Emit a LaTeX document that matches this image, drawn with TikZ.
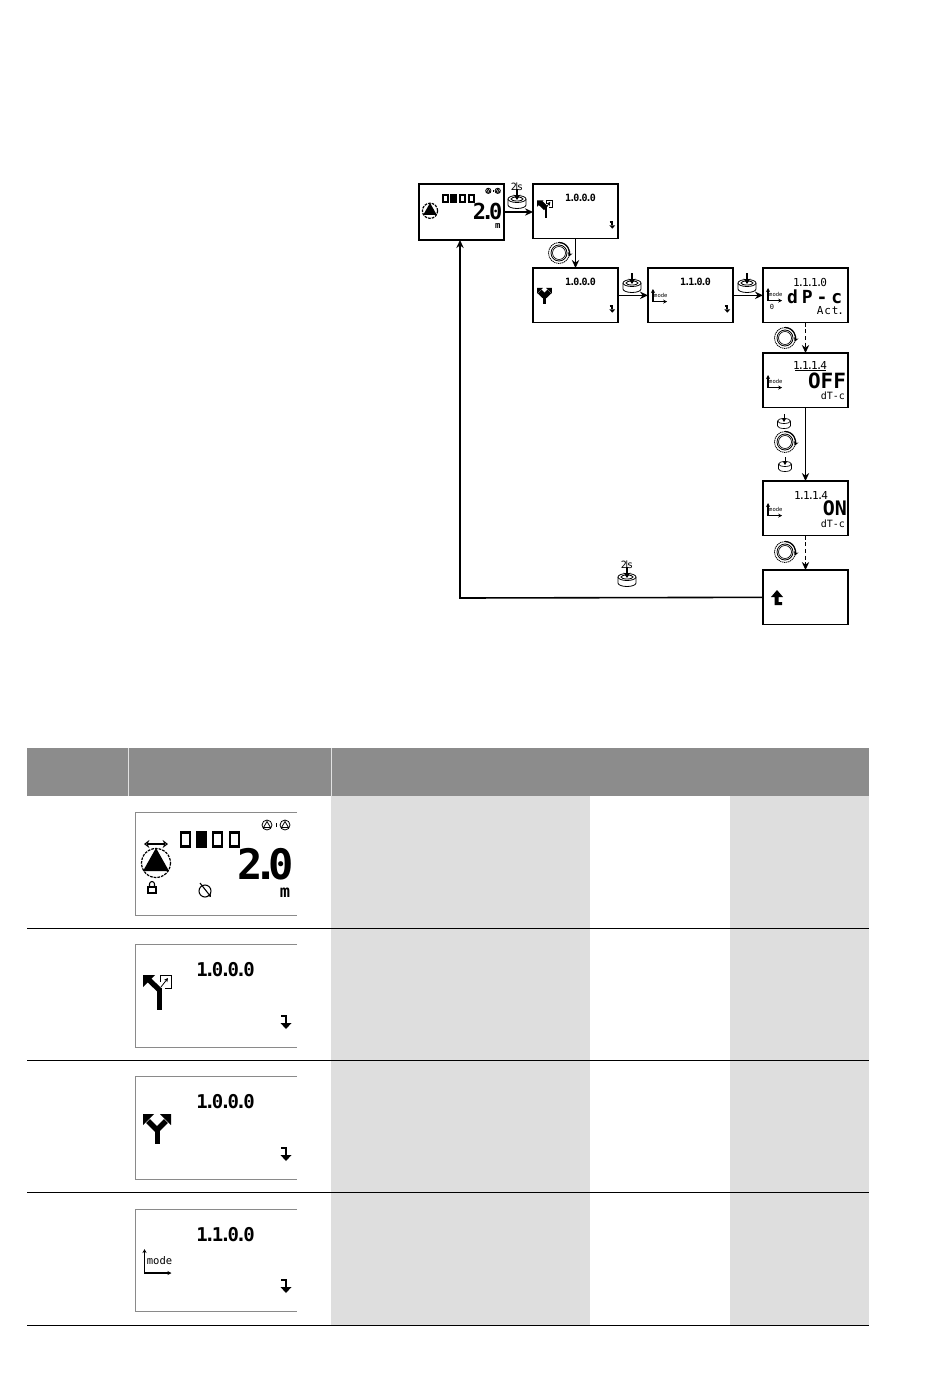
\documentclass[tikz,border=0pt]{standalone}
\usepackage{fontspec}
\setmainfont{DejaVu Sans Mono}
\usetikzlibrary{arrows.meta}
\definecolor{headgray}{HTML}{8C8C8C}
\definecolor{cellgray}{HTML}{DEDEDE}
\definecolor{framegray}{HTML}{8A8A8A}
% font size given in reference pixels (1px = .75pt)
\newcommand{\pxfont}[1]{\fontsize{\dimexpr#1pt*3/4\relax}{\dimexpr#1pt*3/4\relax}\selectfont}
\newcommand{\kd}{\kern-.19em.\kern-.19em}
\newcommand{\code}[4]{#1\kd#2\kd#3\kd#4}
\tikzset{
  x=.75pt,y=-.75pt,
  screenbox/.style={draw=black,line width=1pt,fill=white,rectangle,minimum width=63.75pt,minimum height=41pt,inner sep=0pt,outer sep=0pt,anchor=north west},
  flow/.style={draw=black,line width=1.2pt,-{Stealth[length=6pt,width=5.5pt]}},
  flowthin/.style={flow,line width=.8pt},
  flowdash/.style={flow,line width=.8pt,dash pattern=on 3pt off 2pt},
  lcd/.style={inner sep=0pt,outer sep=0pt,text=black},
  framing/.style={draw=framegray,line width=.7pt},
  pics/downret/.style={code={
    \draw[line width=1.5pt] (-5,-7) -- (0,-7) -- (0,0);
    \fill (-5.5,0) -- (5.5,0) -- (0,6) -- cycle;
  }},
  pics/modeicon/.style={code={
    \draw[line width=1.1pt,{Stealth[length=3pt,width=3pt]}-{Stealth[length=3pt,width=3pt]}] (0,0) -- (0,24) -- (27,24);
    \node[lcd] at (15,12) {\pxfont{10.5}mode};
  }},
  pics/forkone/.style={code={
    \fill (22,65.5) rectangle (27,44);
    \draw[line width=4pt] (24.5,46) -- (14,36);
    \fill (8,31) -- (20,31) -- (8,43) -- cycle;
    \draw[line width=.6pt,fill=white] (25,38) -- (25,31) -- (36,31) -- (36,44) -- (30,44);
    \draw[line width=.6pt,-{Stealth[length=3pt,width=3pt]}] (26,43) -- (33,34);
  }},
  pics/forktwo/.style={code={
    \fill (19.5,68) rectangle (24.5,52);
    \draw[line width=4pt] (22,54) -- (13,45);
    \draw[line width=4pt] (22,54) -- (31,45);
    \fill (8,38) -- (19,38) -- (8,49) -- cycle;
    \fill (36,38) -- (25,38) -- (36,49) -- cycle;
  }},
  pics/pumpscreen/.style={code={
    \foreach \xx/\ff in {46/white,62/black,78/white,95/white}{
      \draw[line width=1.6pt,fill=\ff] (\xx,20.5) rectangle (\xx+9,34.5);
    }
    \draw[line width=.9pt,dash pattern=on 2pt off .8pt] (21,51) circle (14.5);
    \fill (21,36) -- (34,59) -- (8,59) -- cycle;
    \foreach \cx in {132,150}{
      \draw[line width=.6pt] (\cx,13) circle (5);
      \draw[line width=.6pt] (\cx,9.5) -- (\cx+3.5,15.5) -- (\cx-3.5,15.5) -- cycle;
    }
    \fill (141,11) rectangle (142,15);
    \node[lcd,font=\bfseries,anchor=base east] at (159,67.5) {\pxfont{42}2\kern-.23em.\kern-.23em 0};
  }},
  pics/pressbtn/.style={code={
    \draw[line width=.6pt,fill=white] (-9,-1) -- (-9,5) arc[start angle=180,end angle=0,x radius=9,y radius=3.5] -- (9,-1);
    \draw[line width=.6pt,fill=white] (0,-1) ellipse[x radius=9,y radius=3.5];
    \draw[line width=.6pt] (0,-1) ellipse[x radius=6,y radius=2];
    \draw[line width=1.3pt,-{Stealth[length=4pt,width=5pt]}] (0,-11) -- (0,0);
  }},
  pics/smallpress/.style={code={
    \draw[line width=.5pt,fill=white] (-6.5,-1) -- (-6.5,4) arc[start angle=180,end angle=0,x radius=6.5,y radius=2.5] -- (6.5,-1);
    \draw[line width=.5pt,fill=white] (0,-1) ellipse[x radius=6.5,y radius=2.5];
    \draw[line width=.7pt,-{Stealth[length=3pt,width=3.5pt]}] (0,-8) -- (0,0);
  }},
  pics/dial/.style={code={
    \draw[line width=.6pt] (0,0) circle (8);
    \draw[line width=.5pt] (0,0) circle (6.5);
    \draw[line width=.6pt,dash pattern=on 1pt off .5pt] (0,0) circle (10.5);
    \draw[line width=.9pt,-{Stealth[length=3pt,width=3.5pt]}] (-90:10.5) arc[start angle=-90,end angle=20,radius=10.5];
  }},
}
\begin{document}
\begin{tikzpicture}
\useasboundingbox (0,0) rectangle (950,1388);
\fill[white] (0,0) rectangle (950,1388);

% ---------- table ----------
\fill[headgray] (27,748) rectangle (869,796);
\draw[white!75!headgray,line width=.5pt] (128,748) -- (128,796) (331,748) -- (331,796);
\fill[cellgray] (331,796) rectangle (590,928);
\fill[cellgray] (730,796) rectangle (869,928);
\fill[cellgray] (331,929) rectangle (590,1060);
\fill[cellgray] (730,929) rectangle (869,1060);
\fill[cellgray] (331,1061) rectangle (590,1192);
\fill[cellgray] (730,1061) rectangle (869,1192);
\fill[cellgray] (331,1193) rectangle (590,1325);
\fill[cellgray] (730,1193) rectangle (869,1325);
\foreach \yy in {928,1060,1192,1325}{
  \draw[black,line width=.7pt] (27,\yy) -- (869,\yy);
}
% table screens
\draw[framing] (297,812) -- (135.5,812) -- (135.5,915) -- (297,915);
\draw[framing] (297,944) -- (135.5,944) -- (135.5,1047) -- (297,1047);
\draw[framing] (297,1076) -- (135.5,1076) -- (135.5,1179) -- (297,1179);
\draw[framing] (297,1209) -- (135.5,1209) -- (135.5,1311) -- (297,1311);

% row 1
\begin{scope}[shift={(135,812)}]
  \pic {pumpscreen};
  \draw[line width=.8pt,{Stealth[length=4pt,width=6pt,open]}-{Stealth[length=4pt,width=6pt,open]}] (9,32) -- (33,32);
  % lock
  \draw[line width=.8pt] (13,75) rectangle (21,81);
  \draw[line width=.8pt] (14.5,75) -- (14.5,72) arc[start angle=180,end angle=360,radius=2.5] -- (19.5,75);
  % tilted symbol
  \draw[line width=.8pt] (70,79) circle (6);
  \draw[line width=.8pt,-{Stealth[length=2.5pt,width=3pt]}] (65,71) -- (76,85);
  \node[lcd,anchor=base] at (150,85) {\pxfont{17}\bfseries m};
\end{scope}
% row 2
\begin{scope}[shift={(135,944)}]
  \node[lcd,font=\bfseries] at (90.5,26) {\pxfont{19}\code{1}{0}{0}{0}};
  \pic {forkone};
  \pic at (151,79) {downret};
\end{scope}
% row 3
\begin{scope}[shift={(135,1076)}]
  \node[lcd,font=\bfseries] at (90.5,26) {\pxfont{19}\code{1}{0}{0}{0}};
  \pic {forktwo};
  \pic at (151,79) {downret};
\end{scope}
% row 4
\begin{scope}[shift={(135,1209)}]
  \node[lcd,font=\bfseries] at (90.5,26) {\pxfont{19}\code{1}{1}{0}{0}};
  \pic at (9.5,40) {modeicon};
  \pic at (151,78) {downret};
\end{scope}

% ---------- flow diagram boxes ----------
\node[screenbox,minimum height=42pt] (s1) at (419,184) {};
\node[screenbox] (s2) at (533,184) {};
\node[screenbox] (s3) at (533,268) {};
\node[screenbox] (s4) at (648,268) {};
\node[screenbox] (s5) at (763,268) {};
\node[screenbox] (s6) at (763,353) {};
\node[screenbox] (s7) at (763,481) {};
\node[screenbox] (s8) at (763,570) {};

% contents of small screens
\begin{scope}[shift={(419,184)},scale=.525,transform shape]
  \pic {pumpscreen};
  \node[lcd,anchor=base] at (150,85) {\pxfont{17}\bfseries m};
\end{scope}
\begin{scope}[shift={(533,184)},scale=.525,transform shape]
  \node[lcd,font=\bfseries] at (90.5,26) {\pxfont{19}\code{1}{0}{0}{0}};
  \pic {forkone};
  \pic at (151,79) {downret};
\end{scope}
\begin{scope}[shift={(533,268)},scale=.525,transform shape]
  \node[lcd,font=\bfseries] at (90.5,26) {\pxfont{19}\code{1}{0}{0}{0}};
  \pic {forktwo};
  \pic at (151,79) {downret};
\end{scope}
\begin{scope}[shift={(648,268)},scale=.525,transform shape]
  \node[lcd,font=\bfseries] at (90.5,26) {\pxfont{19}\code{1}{1}{0}{0}};
  \pic at (9.5,40) {modeicon};
  \pic at (151,79) {downret};
\end{scope}
\begin{scope}[shift={(763,268)}]
  \node[lcd] at (47,14) {\pxfont{11}\code{1}{1}{1}{0}};
  \begin{scope}[shift={(5,20)},scale=.525,transform shape]
    \pic at (0,0) {modeicon};
  \end{scope}
  \node[lcd,anchor=base west,font=\bfseries] at (24,35) {\pxfont{18}d\kern.22em P\kern.22em -\kern.22em c};
  \node[lcd,anchor=base east] at (81,46.5) {\pxfont{11}A\kern.08em c\kern.08em t\kern-.1em.};
  \node[lcd] at (9,39) {\pxfont{7}0};
\end{scope}
\begin{scope}[shift={(763,353)}]
  \node[lcd] at (47,12.5) {\pxfont{11}\code{1}{1}{1}{4}};
  \draw[line width=.5pt] (32,17.5) -- (63,17.5);
  \begin{scope}[shift={(5,22)},scale=.525,transform shape]
    \pic at (0,0) {modeicon};
  \end{scope}
  \node[lcd,anchor=base east,font=\bfseries] at (83,35) {\pxfont{21}OFF};
  \node[lcd,anchor=base east] at (82,46) {\pxfont{10}dT-c};
\end{scope}
\begin{scope}[shift={(763,481)}]
  \node[lcd] at (48,14) {\pxfont{11}\code{1}{1}{1}{4}};
  \begin{scope}[shift={(5,22)},scale=.525,transform shape]
    \pic at (0,0) {modeicon};
  \end{scope}
  \node[lcd,anchor=base east,font=\bfseries] at (84,34) {\pxfont{20}ON};
  \node[lcd,anchor=base east] at (82,46) {\pxfont{10}dT-c};
\end{scope}
% back symbol
\begin{scope}[shift={(763,570)}]
  \fill (14,20) -- (8,27) -- (11.5,27) -- (11.5,35) -- (19,35) -- (19,32) -- (15.5,32) -- (15.5,27) -- (20,27) -- cycle;
\end{scope}

% ---------- connectors ----------
\draw[flowthin] (s1.east |- 0,212) -- (s2.west |- 0,212);
\draw[flow] (s2.south) -- (s3.north);
\draw[flow] (s3.east) -- (s4.west);
\draw[flow] (s4.east) -- (s5.west);
\draw[flowdash] (s5.south) -- (s6.north);
\draw[flowthin] (s6.south) -- (s7.north);
\draw[flowdash] (s7.south) -- (s8.north);
\coordinate (elbow) at (460,598);
\draw[flow] (s8.west) -- (elbow) -- (elbow |- s1.south);

% ---------- operating symbols ----------
\pic at (517,200) {pressbtn};
\node[lcd] at (517,187.5) {\pxfont{10}2\kern-.3em|\kern-.3em s};
\pic at (632,284) {pressbtn};
\pic at (747,284) {pressbtn};
\pic at (559,253) {dial};
\pic at (785,338) {dial};
\pic at (784,422) {smallpress};
\pic at (785,442) {dial};
\pic at (785,465) {smallpress};
\pic at (785,552) {dial};
\pic at (627,578) {pressbtn};
\node[lcd] at (627,565.5) {\pxfont{10}2\kern-.3em|\kern-.3em s};
\end{tikzpicture}
\end{document}
